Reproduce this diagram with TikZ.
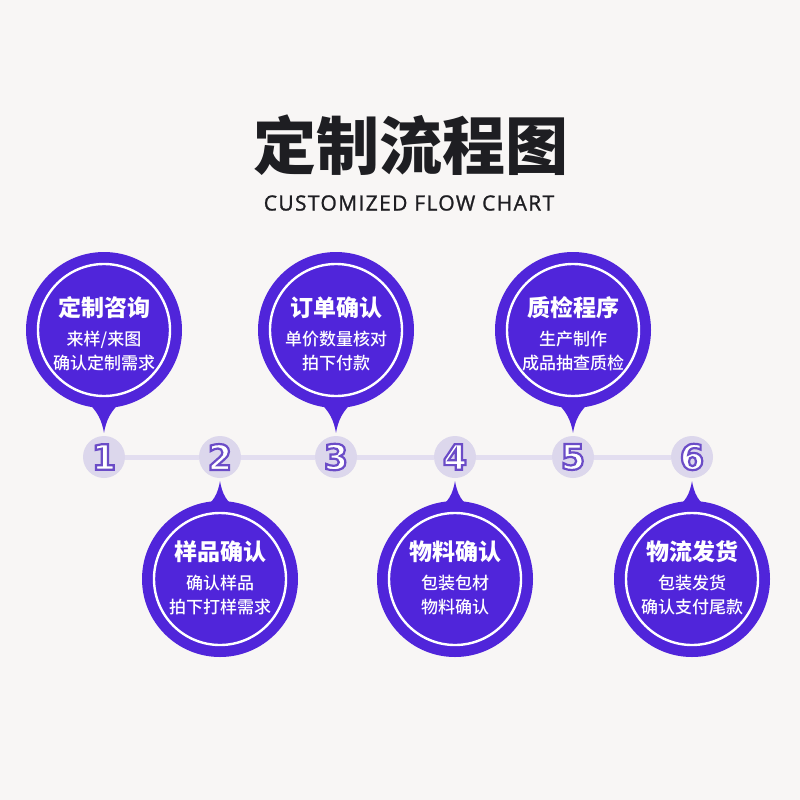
\documentclass[tikz,border=0pt]{standalone}
\usepackage{fontspec}
\usepackage{xcolor}
\usepackage{tikz}
\usetikzlibrary{calc}
\newfontfamily\cjk{Noto Sans CJK SC}
\newfontfamily\cjkheavy{Noto Sans CJK SC Black}
\newfontfamily\cjkmedium{Noto Sans CJK SC Medium}
\newfontfamily\latinfont{Open Sans}[FakeBold=1.2, LetterSpace=6.5]
\newfontfamily\digitfont{DejaVu Sans}
\definecolor{FlowPurple}{HTML}{5025DA}
\definecolor{FlowLilac}{HTML}{DCD7EC}
\definecolor{FlowTrack}{HTML}{E3DEF0}
\definecolor{FlowPaper}{HTML}{F8F6F5}
\definecolor{FlowInk}{HTML}{1E1E22}
% white digit with a purple outline
\newcommand\hollowdigit[1]{\special{pdf:literal direct q 2 Tr 2.2 w 0.42 0.30 0.78 RG}#1\special{pdf:literal direct Q}}
\tikzset{
  headline/.style={text=FlowInk, font=\cjk\bfseries\fontsize{63}{69}\selectfont, inner sep=0pt},
  subline/.style={text=FlowInk, font=\latinfont\fontsize{21}{24}\selectfont, inner sep=0pt},
  bubble/.style={circle, fill=FlowPurple, minimum size=156pt, inner sep=0pt},
  ring/.style={draw=white, line width=2.4pt},
  caption/.style={text=white, align=center, inner sep=0pt,
    font=\cjkmedium\fontsize{17}{24}\selectfont},
  numdot/.style={circle, fill=FlowLilac, minimum size=42pt, inner sep=0pt,
    text=white, font=\digitfont\bfseries\fontsize{35}{35}\selectfont},
  track/.style={draw=FlowTrack, line width=5pt},
  pin/.style={fill=FlowPurple}
}
\begin{document}
\begin{tikzpicture}[x=1pt, y=-1pt]
  \fill[FlowPaper] (0,0) rectangle (800,800);
  \node[headline] (title) at (411,145) {定制流程图};
  \node[subline] (subtitle) at (409,203) {CUSTOMIZED FLOW CHART};
  % numbered stops on the line
  \foreach \i/\x in {1/104,2/220,3/336,4/455,5/573,6/692}
    \node[numdot] (n\i) at (\x,457) {\hollowdigit{\i}};
  \foreach \a/\b in {1/2,2/3,3/4,4/5,5/6}
    \draw[track] (n\a) -- (n\b);
  % bubbles above the line
  \foreach \i/\x/\head/\la/\lb in {1/104/定制咨询/{来样/来图}/确认定制需求,
      3/336/订单确认/单价数量核对/拍下付款, 5/573/质检程序/生产制作/成品抽查质检} {
    \node[bubble] (b\i) at (\x,330) {};
    \fill[pin] ($(b\i.center)+(-20,70)$) .. controls ($(n\i.north)+(-6,-26)$) and ($(n\i.north)+(-2,-14)$) .. ($(n\i.north)+(0,-3)$)
      .. controls ($(n\i.north)+(2,-14)$) and ($(n\i.north)+(6,-26)$) .. ($(b\i.center)+(20,70)$) -- cycle;
    \draw[ring] (b\i.center) circle[radius=66];
    \node[caption] (t\i) at ($(b\i.center)+(0,4)$)
      {{\cjkheavy\fontsize{23}{24}\selectfont\head}\\[5pt]\la\\\lb};
  }
  % bubbles below the line
  \foreach \i/\x/\head/\la/\lb in {2/220/样品确认/确认样品/拍下打样需求,
      4/455/物料确认/包装包材/物料确认, 6/692/物流发货/包装发货/确认支付尾款} {
    \node[bubble] (b\i) at (\x,579) {};
    \fill[pin] ($(b\i.center)+(-20,-70)$) .. controls ($(n\i.south)+(-6,26)$) and ($(n\i.south)+(-2,14)$) .. ($(n\i.south)+(0,3)$)
      .. controls ($(n\i.south)+(2,14)$) and ($(n\i.south)+(6,26)$) .. ($(b\i.center)+(20,-70)$) -- cycle;
    \draw[ring] (b\i.center) circle[radius=66];
    \node[caption] (t\i) at ($(b\i.center)+(0,-1)$)
      {{\cjkheavy\fontsize{23}{24}\selectfont\head}\\[5pt]\la\\\lb};
  }
\end{tikzpicture}
\end{document}
